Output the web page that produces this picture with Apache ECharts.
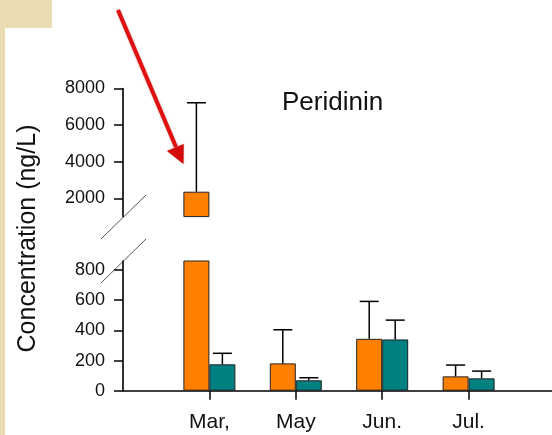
<!DOCTYPE html>
<html>
<head>
<meta charset="utf-8">
<script src="https://cdn.jsdelivr.net/npm/echarts@6/dist/echarts.min.js"></script>
<style>
html,body{margin:0;padding:0;background:#EADCB2;}
#chart{width:552px;height:435px;}
</style>
</head>
<body>
<div id="chart"></div>
<script>
// ---- data ----
const categories = ['Mar,', 'May', 'Jun.', 'Jul.'];
const orangeValues = [2360, 181, 344, 95];
const orangeErrTop = [7220, 404, 592, 170];
const tealValues = [175, 69, 340, 82];
const tealErrTop = [248, 86, 468, 130];
const upperTicks = [2000, 4000, 6000, 8000];
const lowerTicks = [0, 200, 400, 600, 800];
const upperMin = 1000, upperMax = 8000;
const lowerMin = 0, lowerMax = 860;

const xData = [''].concat(categories).concat(['']);
const FONT = 'Liberation Sans, Arial, Helvetica, sans-serif';
const ORANGE = '#FF8000', TEAL = '#008080';

function padded(arr, keep) {
  return [null].concat(arr.map(v => keep(v) ? v : null)).concat([null]);
}
function errData(vals, errs, keep) {
  const out = [];
  vals.forEach((v, i) => { if (keep(v)) out.push([i + 1, v, errs[i]]); });
  return out;
}
function errRender(offset) {
  return function (params, api) {
    const x = api.value(0), v = api.value(1), e = api.value(2);
    const p0 = api.coord([x, v]);
    const p1 = api.coord([x, e]);
    const cx = p0[0] + offset;
    return {
      type: 'group',
      children: [
        {type: 'line', shape: {x1: cx, y1: p0[1], x2: cx, y2: p1[1]}, style: {stroke: '#000', lineWidth: 1.5}},
        {type: 'line', shape: {x1: cx - 9.5, y1: p1[1], x2: cx + 9.5, y2: p1[1]}, style: {stroke: '#000', lineWidth: 1.5}}
      ]
    };
  };
}
const isUpper = v => v > lowerMax;
const isLower = v => true;
const isLowerErr = v => v <= lowerMax;

function xAxisCfg(gridIndex, show) {
  return {
    type: 'category', gridIndex: gridIndex, data: xData, boundaryGap: false,
    show: show,
    axisLine: {show: true, onZero: false, lineStyle: {color: '#000', width: 1.6}},
    axisTick: {show: true, length: 9, interval: (i, v) => v !== '', lineStyle: {color: '#000', width: 1.5}},
    axisLabel: {interval: 0, margin: 21, fontSize: 21, color: '#111', fontFamily: FONT},
    splitLine: {show: false}
  };
}
function yAxisCfg(gridIndex, min, max, ticks) {
  return {
    type: 'value', gridIndex: gridIndex, min: min, max: max,
    axisLine: {show: true, lineStyle: {color: '#000', width: 1.6}},
    axisTick: {show: true, length: 9, customValues: ticks, lineStyle: {color: '#000', width: 1.5}},
    axisLabel: {customValues: ticks, margin: 18, fontSize: 18, color: '#111', fontFamily: FONT,
      formatter: v => String(v)},
    splitLine: {show: false}
  };
}
const barStyle = c => ({color: c, borderColor: '#222', borderWidth: 1});

const chart = echarts.init(document.getElementById('chart'), null, {renderer: 'canvas'});
chart.setOption({
  backgroundColor: 'transparent',
  animation: false,
  title: {text: 'Peridinin', left: 277, top: 85,
    textStyle: {fontSize: 26, fontWeight: 'normal', color: '#111', fontFamily: FONT}},
  graphic: [
    {type: 'rect', z: -10, shape: {x: 5, y: 28, width: 547, height: 407}, style: {fill: '#fff'}},
    {type: 'rect', z: -10, shape: {x: 52, y: 0, width: 500, height: 28}, style: {fill: '#fff'}},
    {type: 'text', x: 28, y: 238.5, rotation: Math.PI / 2,
      style: {text: 'Concentration (ng/L)', fontSize: 25, fontFamily: FONT, fill: '#111', align: 'center', verticalAlign: 'middle'}},
    {type: 'line', shape: {x1: 101, y1: 239, x2: 146, y2: 195}, style: {stroke: '#555', lineWidth: 1}},
    {type: 'line', shape: {x1: 101, y1: 283, x2: 146, y2: 239}, style: {stroke: '#555', lineWidth: 1}},
    {type: 'line', shape: {x1: 118, y1: 10, x2: 176, y2: 147}, style: {stroke: '#E01010', lineWidth: 4, shadowColor: 'rgba(120,0,0,0.4)', shadowBlur: 2}},
    {type: 'polygon', shape: {points: [[183.5, 164], [183.7, 144], [167, 151]]}, style: {fill: '#D40808', shadowColor: 'rgba(120,0,0,0.4)', shadowBlur: 2}}
  ],
  grid: [
    {left: 123, top: 88.5, width: 432, height: 128.1, outerBoundsMode: 'none', containLabel: false},
    {left: 123, top: 261, width: 432, height: 129.7, outerBoundsMode: 'none', containLabel: false}
  ],
  xAxis: [xAxisCfg(0, false), xAxisCfg(1, true)],
  yAxis: [yAxisCfg(0, upperMin, upperMax, upperTicks), yAxisCfg(1, lowerMin, lowerMax, lowerTicks)],
  series: [
    {type: 'bar', xAxisIndex: 0, yAxisIndex: 0, data: padded(orangeValues, isUpper), barWidth: 26, barGap: '0%', itemStyle: barStyle(ORANGE)},
    {type: 'bar', xAxisIndex: 0, yAxisIndex: 0, data: padded(tealValues, isUpper), barWidth: 26, barGap: '0%', itemStyle: barStyle(TEAL)},
    {type: 'bar', xAxisIndex: 1, yAxisIndex: 1, data: padded(orangeValues, isLower), barWidth: 26, barGap: '0%', itemStyle: barStyle(ORANGE)},
    {type: 'bar', xAxisIndex: 1, yAxisIndex: 1, data: padded(tealValues, isLower), barWidth: 26, barGap: '0%', itemStyle: barStyle(TEAL)},
    {type: 'custom', xAxisIndex: 0, yAxisIndex: 0, z: 5, renderItem: errRender(-13), data: errData(orangeValues, orangeErrTop, isUpper)},
    {type: 'custom', xAxisIndex: 0, yAxisIndex: 0, z: 5, renderItem: errRender(13), data: errData(tealValues, tealErrTop, isUpper)},
    {type: 'custom', xAxisIndex: 1, yAxisIndex: 1, z: 5, renderItem: errRender(-13), data: errData(orangeValues, orangeErrTop, isLowerErr)},
    {type: 'custom', xAxisIndex: 1, yAxisIndex: 1, z: 5, renderItem: errRender(13), data: errData(tealValues, tealErrTop, isLowerErr)}
  ]
});
</script>
</body>
</html>
